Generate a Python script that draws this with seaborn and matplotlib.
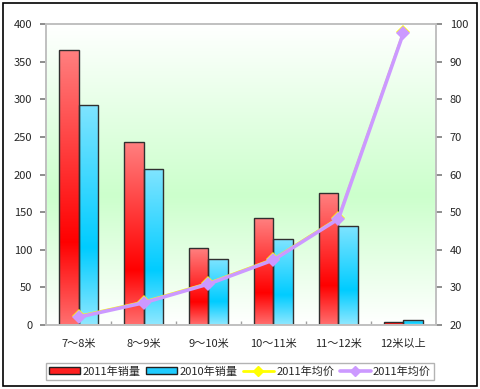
"""Barras de vendas por comprimento com linha de preço médio"""

import numpy as np
import pandas as pd
import seaborn as sns
import matplotlib.pyplot as plt
from matplotlib.colors import LinearSegmentedColormap
from matplotlib.lines import Line2D
from matplotlib.patches import Patch, Rectangle

categories = ["7～8米", "8～9米", "9～10米", "10～11米", "11～12米", "12米以上"]
sales_2011 = [366, 243, 102, 142, 175, 4]
sales_2010 = [293, 207, 88, 114, 132, 7]
price_2011_yellow = [22.4, 26.2, 31.2, 37.6, 48.5, 97.9]
price_2011_purple = [22.1, 25.9, 30.9, 37.3, 48.2, 97.6]
series_names = ["2011年销量", "2010年销量", "2011年均价", "2011年均价"]

sns.set_theme(style="white")
plt.rcParams["font.family"] = ["Noto Sans CJK SC", "DejaVu Sans"]
plt.rcParams["axes.unicode_minus"] = False

df = pd.DataFrame({
    "cat": categories * 2,
    "val": sales_2011 + sales_2010,
    "serie": [series_names[0]] * 6 + [series_names[1]] * 6,
})

fig = plt.figure(figsize=(4.8, 3.89), dpi=100)
ax = fig.add_axes([0.096, 0.1645, 0.812, 0.7735])

sns.barplot(data=df, x="cat", y="val", hue="serie",
            palette=["#ff2020", "#20ccff"], width=0.6, edgecolor="#303030",
            linewidth=1, saturation=1, legend=False, ax=ax)

ax.set_xlim(-0.5, 5.5)
ax.set_ylim(0, 400)

# fundo em degradê
bg = LinearSegmentedColormap.from_list("bg", [(0, "#ffffff"), (0.57, "#ccffcc"), (1, "#ffffff")])
ax.imshow(np.linspace(0, 1, 256).reshape(-1, 1), cmap=bg, aspect="auto",
          extent=[0, 1, 0, 1], transform=ax.transAxes, zorder=0)

# barras em degradê
red = LinearSegmentedColormap.from_list("r", [(0, "#ff8080"), (0.7, "#ff0000"), (1, "#ff7070")])
blue = LinearSegmentedColormap.from_list("b", [(0, "#80e4ff"), (0.65, "#00ccff"), (1, "#90e8ff")])
grad = np.linspace(0, 1, 256).reshape(-1, 1)
for i, bar in enumerate(ax.patches):
    cmap = red if i < 6 else blue
    x0, y0 = bar.get_x(), bar.get_y()
    img = ax.imshow(grad, cmap=cmap, aspect="auto",
                    extent=[x0, x0 + bar.get_width(), y0, y0 + bar.get_height()],
                    zorder=bar.get_zorder())
    img.set_clip_path(bar)
    bar.set_facecolor("none")
    bar.set_zorder(bar.get_zorder() + 0.1)

ax.set_xlim(-0.5, 5.5)
ax.set_ylim(0, 400)
ax.set_yticks(range(0, 401, 50))
ax.set_xlabel("")
ax.set_ylabel("")
ax.set_xticks(range(6))
ax.set_xticklabels(categories)
ax.set_xticks(np.arange(0.5, 5, 1), minor=True)
ax.tick_params(axis="x", which="major", length=0, labelsize=8, pad=10)
ax.tick_params(axis="x", which="minor", length=3, direction="in", color="#a0a0a0", bottom=True)
ax.tick_params(axis="y", length=4, direction="out", color="#808080", labelsize=8, left=True, pad=6)

ax2 = ax.twinx()
sns.lineplot(x=categories, y=price_2011_yellow, color="#ffff00", linewidth=1.6,
             marker="D", markersize=7, markeredgewidth=0, sort=False, ax=ax2, zorder=3)
sns.lineplot(x=categories, y=price_2011_purple, color="#cc99ff", linewidth=2.6,
             marker="D", markersize=7, markeredgewidth=0, sort=False, ax=ax2, zorder=4)
ax2.set_ylim(20, 100)
ax2.set_yticks(range(20, 101, 10))
ax2.set_xlim(-0.5, 5.5)
ax2.tick_params(axis="y", length=4, direction="out", color="#808080", labelsize=8, right=True, pad=6)

for a in (ax, ax2):
    for s in a.spines.values():
        s.set_color("#c0c0c0")
        s.set_linewidth(1.2)

handles = [
    Patch(facecolor="#ff2020", edgecolor="#202020"),
    Patch(facecolor="#20ccff", edgecolor="#202020"),
    Line2D([], [], color="#ffff00", linewidth=2, marker="D", markersize=5),
    Line2D([], [], color="#cc99ff", linewidth=2.6, marker="D", markersize=5),
]
fig.legend(handles, series_names, loc="center", bbox_to_anchor=(0.5, 0.045), ncol=4,
           frameon=True, fancybox=False, edgecolor="#a0a0a0", fontsize=8,
           handlelength=2.8, handleheight=0.6, handletextpad=0.2, columnspacing=0.5,
           borderpad=0.3)

fig.patches.append(Rectangle((0.006, 0.008), 0.988, 0.985, transform=fig.transFigure,
                             fill=False, edgecolor="black", linewidth=1.2))

plt.savefig("out.png", dpi=100)
